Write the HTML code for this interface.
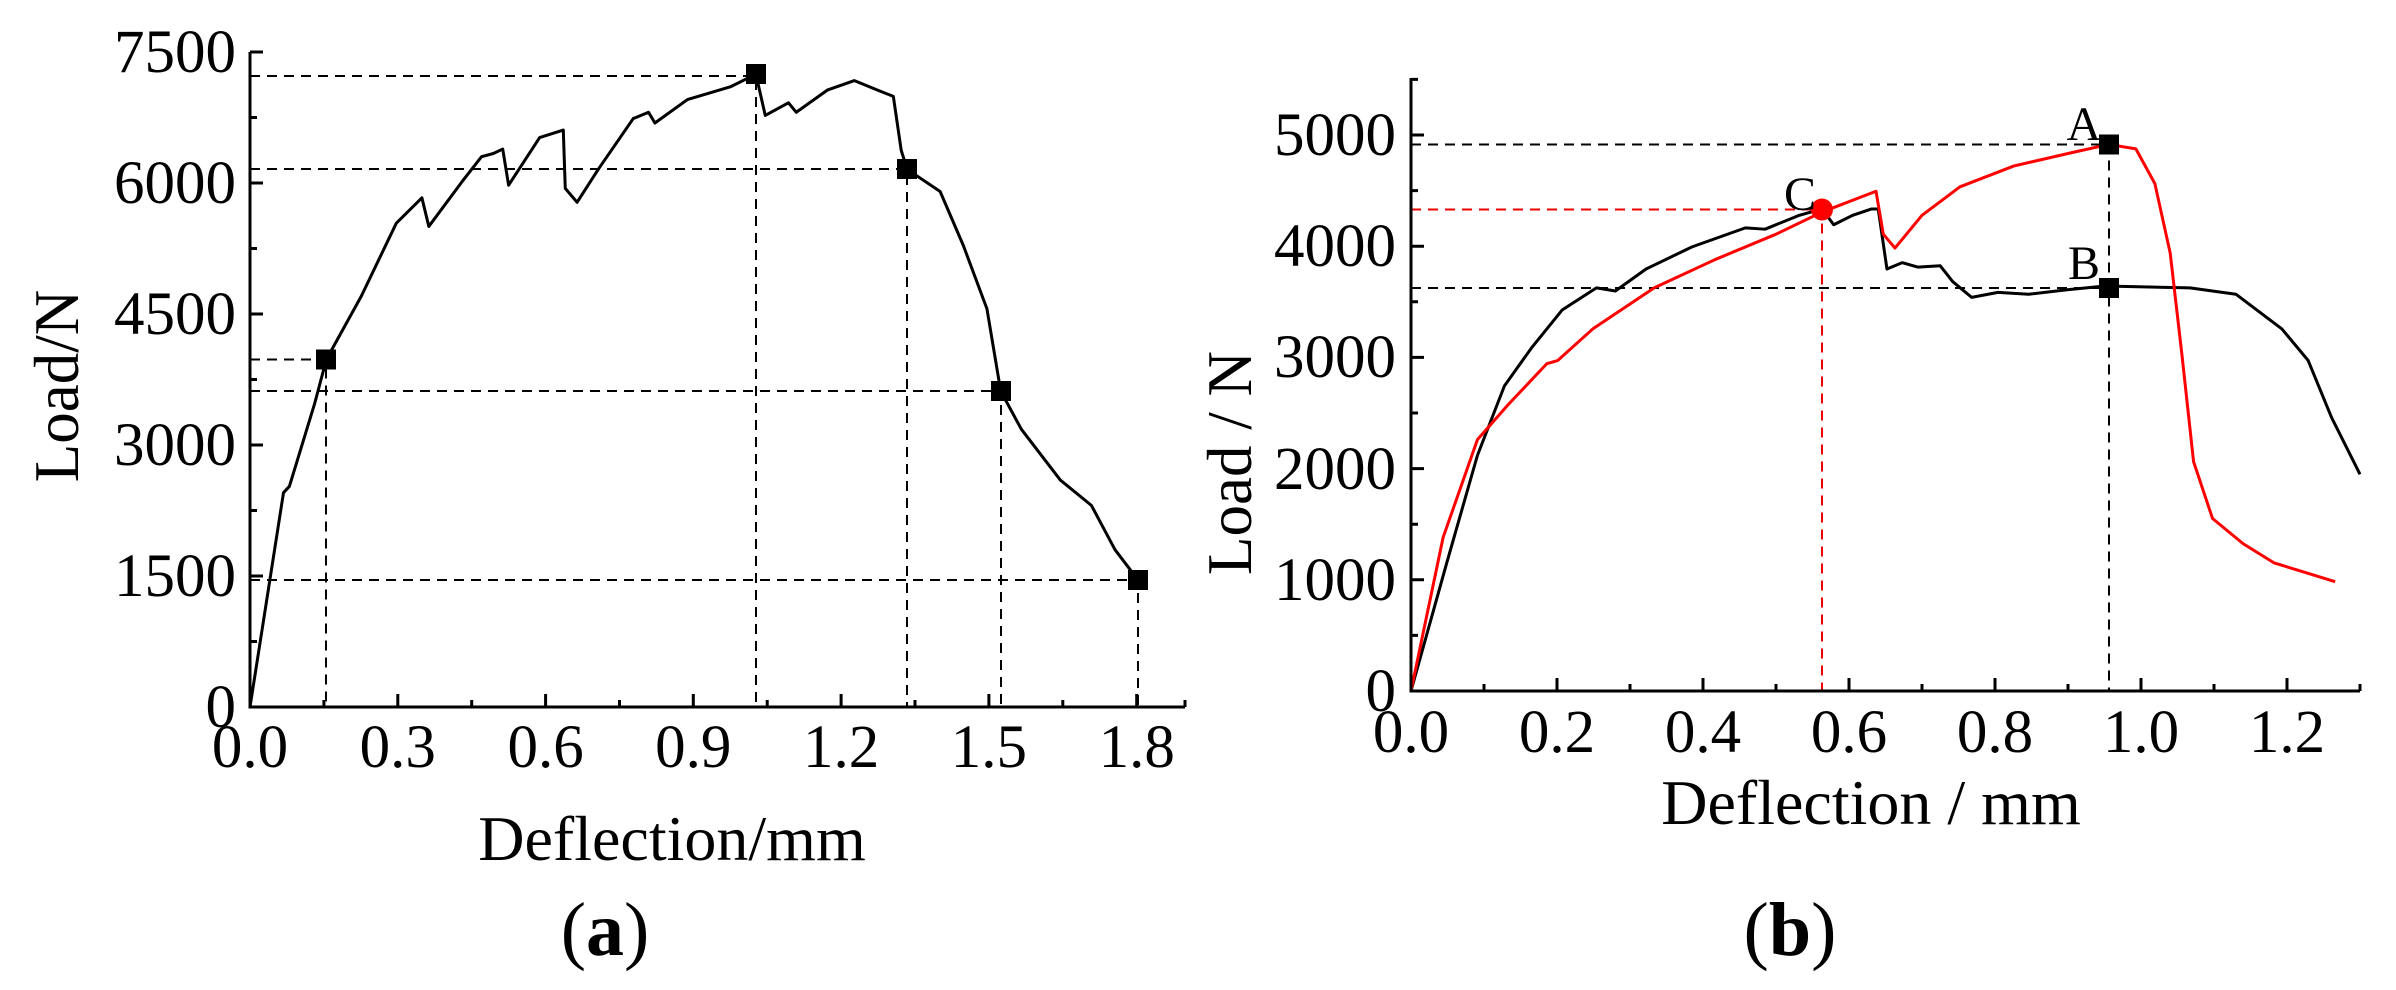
<!DOCTYPE html>
<html><head><meta charset="utf-8"><style>
html,body{margin:0;padding:0;background:#fff;}
svg{display:block;}
text{font-family:"Liberation Serif",serif;fill:#000;}
</style></head><body>
<svg width="2396" height="990" viewBox="0 0 2396 990" xmlns="http://www.w3.org/2000/svg">
<!-- Panel a -->
<g fill="none" stroke="#000" stroke-width="2" stroke-dasharray="10,7">
<path d="M250 76H756V707 M250 169H907V707 M250 359.5H326V707 M250 391H1001V707 M250 580H1138V707"/>
</g>
<g transform="translate(250,707) scale(492.6,-0.08733)">
<polyline fill="none" stroke="#000" stroke-width="3" vector-effect="non-scaling-stroke" stroke-linejoin="round" points="0,0 0.068,2454 0.08,2527 0.131,3470 0.155,3979 0.226,4705 0.297,5540 0.349,5830 0.363,5503 0.43,6012 0.47,6302 0.494,6338 0.513,6389 0.525,5975 0.588,6520 0.636,6607 0.64,5939 0.664,5779 0.707,6157 0.778,6738 0.809,6810 0.822,6687 0.888,6956 0.975,7101 1.027,7246 1.046,6774 1.093,6919 1.109,6810 1.172,7064 1.227,7173 1.274,7064 1.306,6992 1.322,6374 1.334,6157 1.401,5903 1.448,5286 1.496,4560 1.524,3616 1.566,3180 1.645,2599 1.708,2309 1.756,1801 1.803,1452"/>
</g>
<g fill="#000">
<rect x="316" y="349.5" width="20" height="20"/><rect x="746" y="64" width="20" height="20"/><rect x="897" y="159" width="20" height="20"/><rect x="991" y="381" width="20" height="20"/><rect x="1128" y="570" width="20" height="20"/>
</g>
<g fill="none" stroke="#000" stroke-width="3">
<path d="M250 52V707H1185"/>
<path d="M250 52h13M250 117.5h7M250 183h13M250 248.5h7M250 314h13M250 379.5h7M250 445h13M250 510.5h7M250 576h13M250 641.5h7"/>
<path d="M323.9 707v-7M397.8 707v-13M471.7 707v-7M545.6 707v-13M619.5 707v-7M693.3 707v-13M767.2 707v-7M841.1 707v-13M915 707v-7M988.9 707v-13M1062.8 707v-7M1136.7 707v-13M1185 707v-7"/>
</g>
<g font-size="61" text-anchor="end">
<text x="236" y="727">0</text><text x="236" y="596">1500</text><text x="236" y="465">3000</text><text x="236" y="334">4500</text><text x="236" y="203">6000</text><text x="236" y="72">7500</text>
</g>
<g font-size="61" text-anchor="middle">
<text x="250" y="767">0.0</text><text x="397.8" y="767">0.3</text><text x="545.6" y="767">0.6</text><text x="693.3" y="767">0.9</text><text x="841.1" y="767">1.2</text><text x="988.9" y="767">1.5</text><text x="1136.7" y="767">1.8</text>
<text x="672" y="860" font-size="64">Deflection/mm</text>
<text transform="translate(78,386) rotate(-90)" font-size="63">Load/N</text>
<text x="605" y="955" font-size="76">(<tspan font-weight="bold">a</tspan>)</text>
</g>

<!-- Panel b -->
<g fill="none" stroke="#000" stroke-width="2" stroke-dasharray="10,7">
<path d="M1411 144.5H2109V691 M1411 288H2109"/>
</g>
<g fill="none" stroke="#e00" stroke-width="2" stroke-dasharray="10,7">
<path d="M1411 209.5H1822V691"/>
</g>
<g transform="translate(1411,691) scale(730,-0.1112)" fill="none" stroke-width="3" stroke-linejoin="round">
<polyline stroke="#000" vector-effect="non-scaling-stroke" points="0,0 0.049,1153 0.091,2119 0.128,2744 0.165,3085 0.207,3426 0.254,3625 0.28,3597 0.322,3795 0.385,3994 0.458,4165 0.485,4153 0.532,4278 0.563,4335 0.579,4193 0.605,4278 0.631,4335 0.64,4335 0.652,3795 0.673,3852 0.694,3812 0.725,3824 0.742,3682 0.768,3540 0.804,3585 0.846,3568 0.899,3608 0.951,3642 1.067,3625 1.13,3568 1.193,3256 1.229,2972 1.261,2460 1.3,1949"/>
<polyline stroke="#f00" vector-effect="non-scaling-stroke" points="0,0 0.044,1381 0.091,2261 0.133,2574 0.186,2943 0.201,2972 0.249,3256 0.333,3625 0.417,3881 0.5,4108 0.563,4307 0.637,4494 0.647,4108 0.663,3983 0.7,4278 0.752,4534 0.826,4722 0.909,4847 0.956,4915 0.993,4875 1.019,4563 1.04,3938 1.056,3028 1.072,2063 1.098,1551 1.14,1324 1.182,1153 1.266,983"/>
</g>
<rect x="2099" y="134.5" width="20" height="20" fill="#000"/>
<rect x="2099" y="278" width="20" height="20" fill="#000"/>
<circle cx="1822" cy="209.5" r="11" fill="#f00"/>
<g fill="none" stroke="#000" stroke-width="3">
<path d="M1411 78V691H2360"/>
<path d="M1411 79.4h7M1411 135h13M1411 190.6h7M1411 246.2h13M1411 301.8h7M1411 357.4h13M1411 413h7M1411 468.6h13M1411 524.2h7M1411 579.8h13M1411 635.4h7"/>
<path d="M1484 691v-7M1557 691v-13M1630 691v-7M1703 691v-13M1776 691v-7M1849 691v-13M1922 691v-7M1995 691v-13M2068 691v-7M2141 691v-13M2214 691v-7M2287 691v-13M2360 691v-7"/>
</g>
<g font-size="61" text-anchor="end">
<text x="1396" y="711">0</text><text x="1396" y="600">1000</text><text x="1396" y="489">2000</text><text x="1396" y="377">3000</text><text x="1396" y="266">4000</text><text x="1396" y="155">5000</text>
</g>
<g font-size="61" text-anchor="middle">
<text x="1411" y="752">0.0</text><text x="1557" y="752">0.2</text><text x="1703" y="752">0.4</text><text x="1849" y="752">0.6</text><text x="1995" y="752">0.8</text><text x="2141" y="752">1.0</text><text x="2287" y="752">1.2</text>
<text x="1871" y="824" font-size="64">Deflection / mm</text>
<text transform="translate(1251,463) rotate(-90)" font-size="63">Load / N</text>
<text x="1790" y="955" font-size="76">(<tspan font-weight="bold">b</tspan>)</text>
</g>
<g font-size="48" text-anchor="middle">
<text x="2084" y="140">A</text><text x="2084" y="279">B</text><text x="1800" y="210">C</text>
</g>
</svg>
</body></html>
